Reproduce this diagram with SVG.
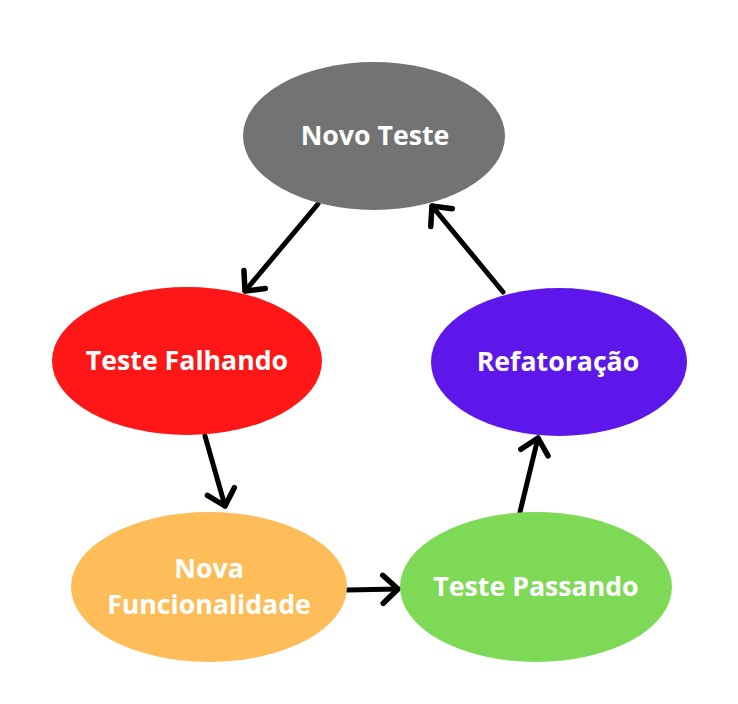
<svg xmlns="http://www.w3.org/2000/svg" width="738" height="704" viewBox="0 0 738 704">
<style>
.lbl{font-family:"Open Sans","Noto Sans",sans-serif;font-weight:700;font-size:26.7px;fill:#ffffff;text-anchor:middle}
.edge{stroke:#000;stroke-width:5;fill:none;stroke-linecap:round}
</style>
<defs>
<marker id="arr" markerWidth="8" markerHeight="8" refX="5" refY="4" orient="auto" markerUnits="strokeWidth" viewBox="0 0 8 8">
<polyline points="2,1.2 5,4 2,6.8" fill="none" stroke="#000" stroke-width="1.1" stroke-linecap="round" stroke-linejoin="round"/>
</marker>
</defs>
<rect width="738" height="704" fill="#ffffff"/>
<g id="connectors">
<line class="edge" x1="318" y1="204" x2="245" y2="291" marker-end="url(#arr)"/>
<line class="edge" x1="503" y1="292" x2="432" y2="206" marker-end="url(#arr)"/>
<line class="edge" x1="205" y1="436" x2="225" y2="506" marker-end="url(#arr)"/>
<line class="edge" x1="347" y1="590" x2="398" y2="589" marker-end="url(#arr)"/>
<line class="edge" x1="520" y1="512" x2="538" y2="438" marker-end="url(#arr)"/>
</g>
<g id="novo-teste">
<ellipse cx="374" cy="136" rx="131" ry="74" fill="#737373"/>
<text class="lbl" x="375" y="145">Novo Teste</text>
</g>
<g id="teste-falhando">
<ellipse cx="187" cy="361" rx="135" ry="74" fill="#ff1616"/>
<text class="lbl" x="187" y="370">Teste Falhando</text>
</g>
<g id="refatoracao">
<ellipse cx="559" cy="362" rx="128" ry="74" fill="#5e17eb"/>
<text class="lbl" x="558" y="371">Refatoração</text>
</g>
<g id="nova-funcionalidade">
<ellipse cx="209" cy="587" rx="138" ry="75" fill="#ffbd59"/>
<text class="lbl" x="209" y="578">Nova</text>
<text class="lbl" x="209" y="614">Funcionalidade</text>
</g>
<g id="teste-passando">
<ellipse cx="536" cy="587" rx="136" ry="75" fill="#7ed957"/>
<text class="lbl" x="536" y="596">Teste Passando</text>
</g>
</svg>
